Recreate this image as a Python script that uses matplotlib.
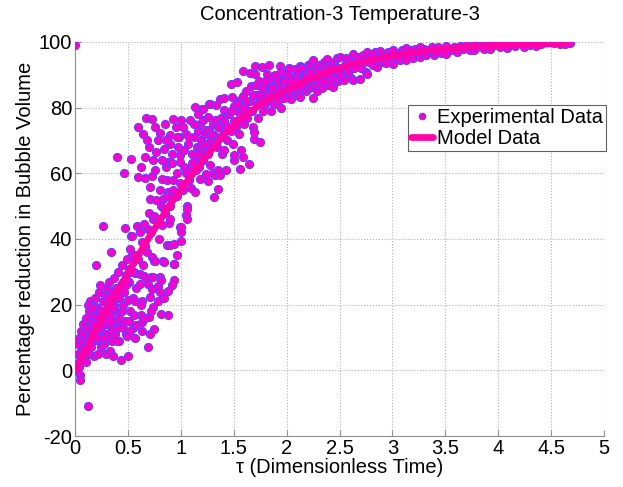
import numpy as np
import matplotlib
matplotlib.use("Agg")
import matplotlib.pyplot as plt

plt.rcParams['font.family'] = ['Liberation Sans', 'DejaVu Sans']
plt.rcParams['axes.unicode_minus'] = False

# experimental points (tau, % reduction) in groups of tau
exp_a = [(0.00, 0.0), (0.00, 99.0), (0.02, 2), (0.03, 5), (0.03, 8), (0.04, 10), (0.04, 1), (0.05, -1.5),
         (0.05, -3), (0.06, 12), (0.06, 6), (0.07, 3), (0.07, 9), (0.08, 14), (0.08, 11), (0.09, 4),
         (0.09, 7), (0.10, 16), (0.10, 2.5), (0.11, 10), (0.11, 13), (0.12, -11), (0.12, 8), (0.13, 18),
         (0.13, 5), (0.14, 21), (0.14, 11), (0.15, 15), (0.15, 7), (0.16, 12), (0.17, 17), (0.17, 9),
         (0.18, 20), (0.18, 4.5), (0.19, 13), (0.19, 22), (0.20, 11), (0.20, 32), (0.20, 16), (0.21, 14),
         (0.22, 5), (0.22, 19), (0.23, 24), (0.23, 9), (0.24, 15), (0.24, 26), (0.25, 7), (0.25, 13),
         (0.26, 44), (0.26, 21), (0.27, 8), (0.27, 17), (0.28, 23), (0.28, 11), (0.29, 5), (0.29, 14),
         (0.30, 25), (0.30, 19)]
exp_b = [(0.31, 14), (0.31, 22), (0.32, 10), (0.32, 27), (0.33, 17), (0.33, 6), (0.34, 36), (0.34, 12),
         (0.35, 9), (0.35, 24), (0.36, 15), (0.36, 4.5), (0.37, 20), (0.37, 28), (0.38, 14), (0.38, 11),
         (0.39, 25), (0.39, 18), (0.40, 65), (0.40, 13), (0.41, 22), (0.41, 30), (0.42, 9), (0.42, 16),
         (0.43, 3), (0.43, 26), (0.44, 14), (0.44, 32), (0.45, 13), (0.45, 20), (0.46, 24), (0.46, 60),
         (0.47, 43.5), (0.47, 15), (0.48, 11), (0.48, 29), (0.49, 10.5), (0.49, 34), (0.50, 4.5),
         (0.50, 21.5), (0.51, 15), (0.51, 27), (0.52, 37), (0.52, 18), (0.53, 41), (0.53, 64.5),
         (0.54, 35), (0.54, 41), (0.55, 22), (0.55, 13), (0.56, 30), (0.57, 21), (0.57, 10), (0.57, 29.7),
         (0.58, 13.7), (0.58, 25), (0.59, 44), (0.60, 59), (0.60, 74)]
exp_c = [(0.61, 29.4), (0.61, 26.4), (0.61, 42), (0.62, 17), (0.63, 21), (0.63, 14.7), (0.63, 12),
         (0.64, 32), (0.65, 28.7), (0.65, 44.7), (0.66, 58.7), (0.67, 77), (0.68, 27.7), (0.68, 36),
         (0.69, 26.2), (0.69, 7), (0.70, 16.2), (0.70, 48), (0.71, 22.3), (0.71, 11.2), (0.71, 55.9),
         (0.71, 52.3), (0.72, 28.5), (0.73, 34.5), (0.73, 76.6), (0.73, 24.9), (0.73, 59.1), (0.74, 19.3),
         (0.74, 28.4), (0.74, 46.2), (0.75, 33.3), (0.75, 12.7), (0.76, 33.3), (0.76, 61), (0.77, 51.8),
         (0.77, 66.5), (0.78, 25.6), (0.79, 40), (0.80, 23.9), (0.80, 54.8), (0.80, 72.4), (0.80, 28.5),
         (0.81, 17.3), (0.81, 27.6), (0.82, 44.2), (0.82, 58.4), (0.83, 33.3), (0.83, 52.3), (0.84, 33.1),
         (0.84, 67.5), (0.85, 48), (0.86, 62), (0.87, 57.9), (0.87, 38.1), (0.88, 16.8), (0.88, 24.1),
         (0.88, 54.3), (0.88, 63.5), (0.89, 45), (0.90, 38.1), (0.90, 46.2), (0.90, 52.8), (0.90, 69),
         (0.90, 71.6), (0.92, 66), (0.93, 58.1), (0.93, 76.4), (0.94, 38.6), (0.94, 32.5), (0.94, 27.6),
         (0.94, 32.4), (0.95, 74.1), (0.96, 60), (0.97, 68), (0.98, 71.1), (0.99, 43.8), (0.99, 63.5),
         (0.99, 65.5), (1.00, 76.2), (1.00, 42.1), (1.00, 39.4), (1.00, 43.6)]
exp_d = [(1.01, 56), (1.02, 74.1), (1.03, 62), (1.05, 72.1), (1.05, 47.2), (1.06, 46.2), (1.06, 50.2),
         (1.06, 49.2), (1.07, 69), (1.08, 58), (1.09, 61.4), (1.09, 76.2), (1.10, 55.4), (1.11, 66),
         (1.12, 71), (1.13, 54.3), (1.13, 80.2), (1.14, 64), (1.15, 68), (1.16, 73), (1.17, 62),
         (1.18, 58.4), (1.18, 75.1), (1.18, 68.1), (1.19, 70), (1.20, 79.7), (1.21, 64), (1.21, 76.1),
         (1.21, 79.7), (1.22, 67), (1.23, 72), (1.24, 59.9), (1.24, 73.1), (1.25, 69), (1.26, 57.7),
         (1.26, 67), (1.26, 77.1), (1.27, 73.1), (1.27, 81), (1.28, 62.5), (1.28, 81.2), (1.29, 70),
         (1.30, 60.2), (1.30, 75), (1.31, 52.8), (1.31, 71.6), (1.32, 59.4), (1.32, 76.1), (1.33, 80.7),
         (1.34, 68), (1.35, 55.1), (1.35, 61), (1.35, 70.6), (1.36, 74), (1.37, 59.4), (1.37, 82.7),
         (1.38, 77), (1.39, 66), (1.40, 72), (1.41, 67), (1.41, 79.2), (1.41, 82.9), (1.42, 75),
         (1.43, 61), (1.44, 70), (1.45, 78), (1.46, 78.2), (1.47, 87.1), (1.47, 73), (1.48, 83.2),
         (1.49, 69), (1.50, 64), (1.50, 65.5), (1.50, 80.4)]
exp_e = [(1.51, 76), (1.52, 74), (1.53, 87.8), (1.54, 79), (1.55, 72), (1.56, 82.2), (1.56, 61.4),
         (1.57, 67), (1.58, 78), (1.59, 83.7), (1.59, 91.2), (1.59, 65), (1.60, 75), (1.61, 80),
         (1.62, 85), (1.63, 77), (1.64, 62.9), (1.65, 90.6), (1.65, 82), (1.66, 86.5), (1.67, 79),
         (1.68, 74), (1.69, 72.6), (1.69, 70.6), (1.70, 90.4), (1.70, 92.6), (1.71, 84), (1.72, 81),
         (1.73, 77), (1.74, 88), (1.75, 69.6), (1.75, 86.8), (1.76, 83), (1.77, 92.4), (1.78, 79),
         (1.79, 85), (1.80, 81), (1.81, 90.4), (1.82, 87), (1.83, 92.9), (1.84, 82.2), (1.84, 85.3),
         (1.85, 79), (1.86, 89), (1.87, 84), (1.88, 81), (1.89, 87), (1.90, 90), (1.91, 84.3), (1.92, 82),
         (1.93, 86), (1.94, 88.8), (1.94, 92.6), (1.95, 80), (1.96, 85), (1.97, 89), (1.98, 83),
         (1.99, 85.3), (2.00, 91)]
exp_f = [(2.01, 87), (2.02, 92.2), (2.03, 84), (2.04, 82.7), (2.05, 89), (2.06, 86), (2.07, 88.3),
         (2.08, 91.9), (2.09, 84), (2.10, 90), (2.11, 87), (2.12, 85), (2.13, 83.3), (2.13, 92.6),
         (2.14, 89), (2.15, 86), (2.16, 89.3), (2.17, 91), (2.18, 85), (2.19, 88), (2.20, 93), (2.21, 86),
         (2.22, 86.3), (2.22, 93.4), (2.23, 89), (2.24, 91), (2.25, 82.8), (2.25, 94.4), (2.26, 87),
         (2.27, 90), (2.28, 92), (2.29, 85), (2.30, 88), (2.31, 93), (2.32, 90), (2.33, 86), (2.34, 91),
         (2.35, 94), (2.36, 89), (2.37, 92), (2.38, 94.9), (2.39, 87), (2.40, 90), (2.41, 93), (2.42, 91),
         (2.43, 89), (2.44, 86.3), (2.45, 94), (2.46, 92), (2.47, 90), (2.48, 95), (2.49, 88),
         (2.50, 95.4), (2.50, 92)]
exp_g = [(2.52, 90), (2.54, 88.3), (2.55, 93), (2.56, 95), (2.58, 91), (2.60, 94), (2.61, 89),
         (2.63, 96.2), (2.63, 88.5), (2.64, 92), (2.66, 94), (2.68, 95.5), (2.69, 88.8), (2.70, 92),
         (2.72, 96), (2.73, 94), (2.75, 91), (2.76, 96.9), (2.76, 90.3), (2.78, 94), (2.80, 95.5),
         (2.82, 93), (2.84, 97), (2.85, 92.4), (2.86, 95), (2.88, 97.4), (2.90, 94), (2.92, 96),
         (2.94, 93.5), (2.96, 97), (2.98, 95), (3.00, 96.5)]
exp_h = [(3.01, 97.6), (3.01, 93.4), (3.03, 95), (3.05, 96.5), (3.07, 94.5), (3.09, 97.5), (3.11, 96),
         (3.13, 98.2), (3.13, 94.4), (3.15, 96.5), (3.17, 97.5), (3.19, 95), (3.21, 98), (3.23, 96.5),
         (3.26, 98.4), (3.26, 95.4), (3.28, 97), (3.30, 98), (3.32, 96), (3.35, 97.5), (3.37, 98.5),
         (3.39, 95.9), (3.41, 97), (3.43, 98.6), (3.46, 96.5), (3.48, 97.8), (3.51, 98.9), (3.51, 96.4)]
exp_i = [(3.55, 97.5), (3.58, 98.5), (3.61, 97), (3.64, 98.8), (3.67, 97.8), (3.70, 99), (3.73, 97.5),
         (3.77, 99.3), (3.77, 97.5), (3.80, 98.5), (3.84, 99), (3.87, 98), (3.90, 99.3), (3.92, 98),
         (3.96, 99), (4.00, 99.5), (4.02, 98.5), (4.05, 99.7), (4.08, 98.3), (4.12, 99.3), (4.16, 98.8),
         (4.20, 99.6), (4.24, 98.5), (4.27, 100), (4.30, 99.2), (4.34, 99.7), (4.36, 98.7), (4.40, 99.5),
         (4.45, 99.9), (4.49, 100), (4.53, 99.6), (4.58, 99.4), (4.63, 99.3), (4.68, 99.7)]
# points hugging the model line and filling the dense patches
exp_j = [(0.05, 4), (0.08, 6), (0.12, 9), (0.16, 10), (0.18, 14), (0.21, 10), (0.24, 18), (0.27, 14),
         (0.30, 15), (0.33, 20), (0.36, 19), (0.39, 23), (0.42, 22), (0.45, 27), (0.48, 26), (0.51, 31),
         (0.54, 30), (0.57, 35), (0.60, 34), (0.63, 39), (0.66, 38), (0.69, 43), (0.72, 42), (0.75, 47),
         (0.78, 46), (0.81, 50), (0.84, 49), (0.87, 53), (0.90, 50), (0.93, 55), (0.96, 53), (0.99, 57),
         (1.02, 55), (1.05, 60), (1.08, 59), (1.11, 63), (1.14, 61), (1.17, 66), (1.20, 64), (1.23, 69),
         (1.26, 66), (1.29, 72), (1.32, 69), (1.35, 74), (1.38, 71), (1.41, 76), (1.44, 74), (1.47, 79),
         (1.50, 76), (1.53, 81), (1.56, 78), (1.59, 80), (1.62, 82), (1.65, 79), (1.68, 84), (1.71, 87),
         (1.74, 84), (1.77, 86), (1.80, 88), (1.83, 84), (1.86, 86), (1.89, 90), (1.92, 88), (1.95, 91),
         (1.98, 88), (2.01, 90), (2.04, 88), (2.07, 86), (2.10, 88), (2.14, 92), (2.18, 90), (2.22, 91),
         (2.26, 89), (2.30, 91), (2.34, 88), (2.38, 90), (2.42, 88), (2.46, 89), (2.50, 90),
         (0.62, 62), (0.66, 65), (0.70, 68), (0.74, 64), (0.78, 70), (0.82, 64), (0.86, 70), (0.92, 63),
         (0.96, 71), (0.64, 72), (0.68, 70), (0.76, 74), (0.85, 75), (1.03, 67), (1.08, 71), (1.12, 75),
         (1.16, 78), (0.12, 20), (0.16, 19), (0.26, 10), (0.34, 15), (0.40, 9), (0.44, 18), (0.52, 12),
         (0.56, 17), (0.62, 20), (0.66, 16), (0.72, 18), (0.78, 21), (0.84, 22), (0.92, 26), (0.96, 35)]

# model curve
model_t = [0, 0.1, 0.2, 0.3, 0.4, 0.5, 0.6, 0.7, 0.8, 0.9, 1.0, 1.2, 1.4, 1.6, 1.8, 2.0,
           2.2, 2.4, 2.6, 2.8, 3.0, 3.3, 3.6, 4.0, 4.3, 4.65]
model_y = [0, 6, 12.5, 18.5, 24, 29.5, 35, 40.5, 45.5, 50.5, 55, 63.5, 71.5, 77.5, 82, 85.5,
           88.5, 91, 93, 94.5, 95.8, 97.2, 98.2, 99, 99.3, 99.6]

x_ticks = [0, 0.5, 1, 1.5, 2, 2.5, 3, 3.5, 4, 4.5, 5]
y_ticks = [-20, 0, 20, 40, 60, 80, 100]

exp_all = np.array(exp_a + exp_b + exp_c + exp_d + exp_e + exp_f + exp_g + exp_h + exp_i + exp_j)

fig = plt.figure(figsize=(6.23, 4.87), dpi=100)
ax = fig.add_axes([0.1204, 0.1047, 0.8491, 0.8091])

ax.plot(exp_all[:, 0], exp_all[:, 1], 'o', ms=5.8, mfc='#FF00CC', mec='#6A3CFF', mew=0.8,
        label='Experimental Data', zorder=3)
ax.plot(model_t, model_y, '-', color='#FF00AA', lw=4.8, label='Model Data', zorder=4,
        solid_capstyle='round')

ax.set_xlim(0, 5)
ax.set_ylim(-20, 100)
ax.set_xticks(x_ticks)
ax.set_xticklabels([('%g' % v) for v in x_ticks])
ax.set_yticks(y_ticks)
ax.grid(True, linestyle=':', color='#B0B0B0', lw=0.8)
ax.set_axisbelow(True)
for s in ['top', 'right']:
    ax.spines[s].set_visible(False)
ax.spines['left'].set_color('#909090')
ax.spines['bottom'].set_color('#909090')
ax.tick_params(direction='in', length=4, labelsize=14.5, colors='#909090', labelcolor='black', pad=2)

ax.set_title('Concentration-3 Temperature-3', fontsize=14.5, pad=16)
ax.set_xlabel('τ (Dimensionless Time)', fontsize=14.5, labelpad=0)
ax.set_ylabel('Percentage reduction in Bubble Volume', fontsize=14.5, labelpad=3)

leg = ax.legend(loc='upper right', bbox_to_anchor=(606 / 623, 1 - 105 / 487),
                bbox_transform=fig.transFigure, fontsize=14.5, fancybox=False, framealpha=1,
                edgecolor='#606060', borderpad=0.15, handlelength=1.1, handletextpad=0.2,
                labelspacing=0.1, borderaxespad=0, markerscale=0.8)
leg.get_frame().set_linewidth(0.8)

fig.savefig('out.png', dpi=100)
